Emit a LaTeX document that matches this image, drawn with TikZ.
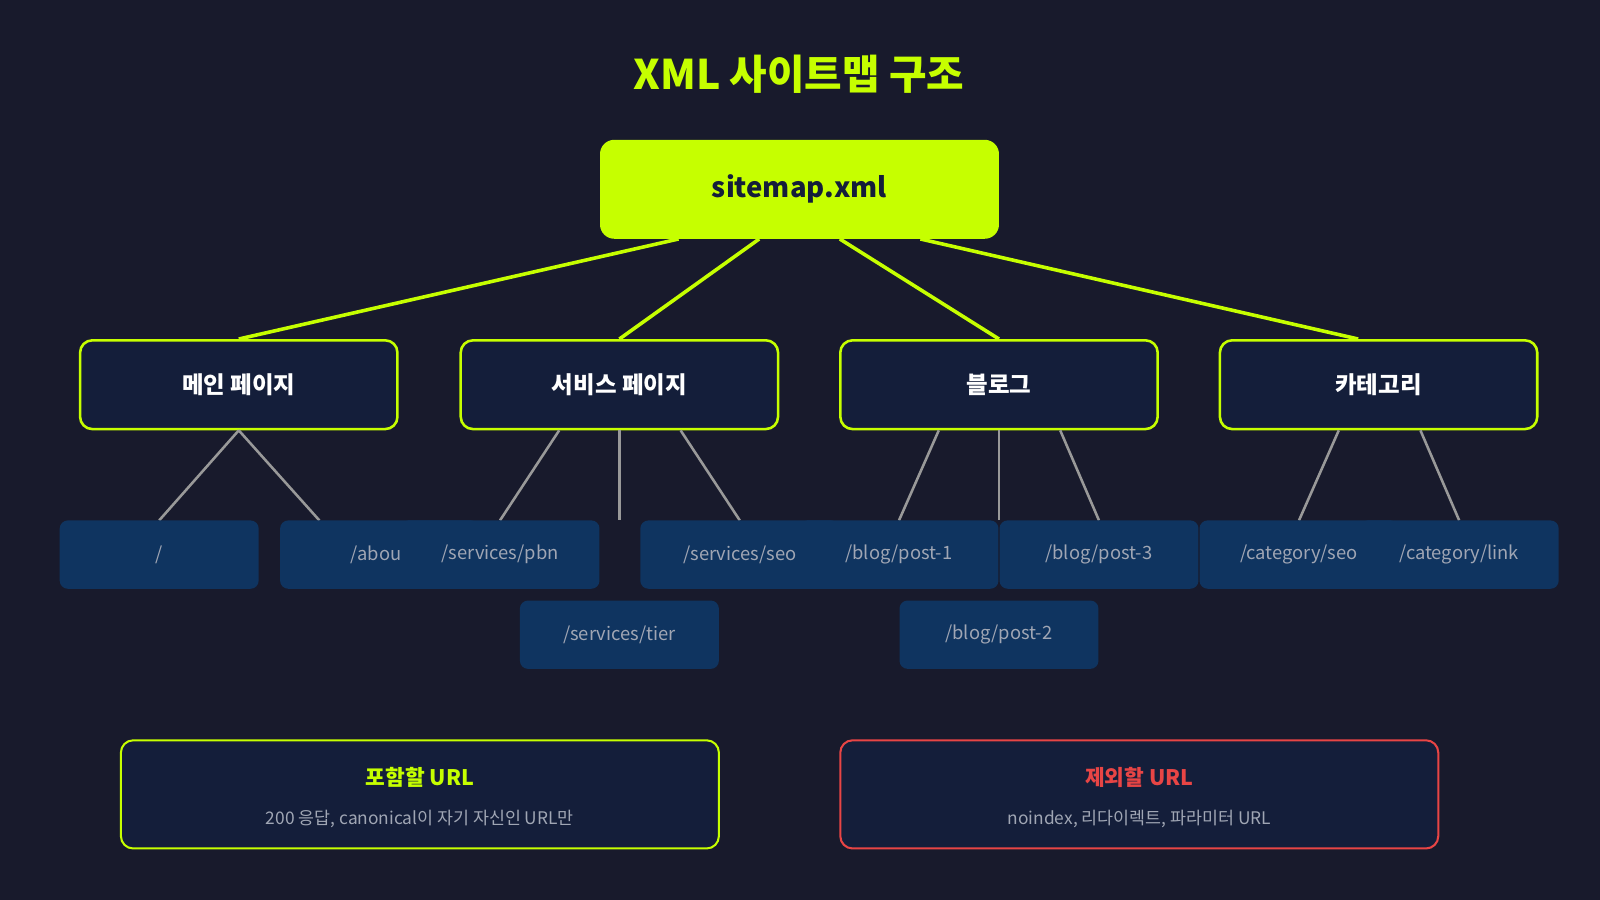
\documentclass[tikz,border=0pt]{standalone}
\usepackage{fontspec}
\setmainfont{Noto Sans CJK KR}
\usetikzlibrary{positioning}
\definecolor{bgc}{HTML}{181A2C}
\definecolor{lime}{HTML}{C6FF00}
\definecolor{boxc}{HTML}{141E3A}
\definecolor{leafc}{HTML}{0F3460}
\definecolor{leaftxt}{HTML}{A0A6B4}
\definecolor{redc}{HTML}{E84545}
\tikzset{
  root/.style={fill=lime,rounded corners=14pt,minimum width=391pt,minimum height=97pt,font=\fontsize{27}{30}\selectfont\bfseries,text=boxc},
  sect/.style={draw=lime,line width=2.5pt,fill=boxc,rounded corners=12pt,minimum width=311pt,minimum height=87pt,font=\fontsize{23}{26}\selectfont\bfseries,text=white},
  leaf/.style={fill=leafc,rounded corners=8pt,minimum width=195pt,minimum height=67pt,font=\fontsize{18}{20}\selectfont,text=leaftxt},
  note/.style={line width=2pt,fill=boxc,rounded corners=12pt,minimum width=586pt,minimum height=106pt},
  main/.style={lime,line width=3.5pt},
  sub/.style={gray!80,line width=2.5pt}
}
\begin{document}
\begin{tikzpicture}[x=1pt,y=-1pt]
\fill[bgc] (0,0) rectangle (1568,882);
\useasboundingbox (0,0) rectangle (1568,882);
\node[text=lime,font=\fontsize{40}{44}\selectfont\bfseries] (title) at (783,73) {XML 사이트맵 구조};
\node[root] (root) at (783.5,185.5) {sitemap.xml};
\node[sect] (main) at (234,377) {메인 페이지};
\node[sect] (serv) at (607,377) {서비스 페이지};
\node[sect] (blog) at (979,377) {블로그};
\node[sect] (cat) at (1351,377) {카테고리};
% sitemap to sections
\draw[main] (root.south -| 665,0) -- (main.north);
\draw[main] (root.south -| 744,0) -- (serv.north);
\draw[main] (root.south -| 823,0) -- (blog.north);
\draw[main] (root.south -| 902,0) -- (cat.north -| 1331,0);
% leaf ends
\coordinate (e1) at (156,510); \coordinate (e2) at (313,510);
\coordinate (e3) at (490,510); \coordinate (e4) at (607,510); \coordinate (e5) at (725,510);
\coordinate (e6) at (881,510); \coordinate (e7) at (979,510); \coordinate (e8) at (1077,510);
\coordinate (e9) at (1273,510); \coordinate (e10) at (1430,510);
\draw[sub] (main.south) -- (e1);
\draw[sub] (main.south) -- (e2);
\draw[sub] (serv.south -| 548,0) -- (e3);
\draw[sub] (serv.south) -- (e4);
\draw[sub] (serv.south -| 667,0) -- (e5);
\draw[sub] (blog.south -| 920,0) -- (e6);
\draw[sub] (blog.south) -- (e7);
\draw[sub] (blog.south -| 1039,0) -- (e8);
\draw[sub] (cat.south -| 1312,0) -- (e9);
\draw[sub] (cat.south -| 1392,0) -- (e10);
% leaves
\node[leaf] (home) at (156,543.5) {/};
\node[leaf] (about) at (372,543.5) {/about};
\node[leaf] (pbn) at (490,543.5) {/services/pbn};
\node[leaf] (tier) at (607,622) {/services/tier};
\node[leaf] (sseo) at (725,543.5) {/services/seo};
\node[leaf] (post1) at (881,543.5) {/blog/post-1};
\node[leaf] (post2) at (979,622) {/blog/post-2};
\node[leaf] (post3) at (1077,543.5) {/blog/post-3};
\node[leaf] (cseo) at (1273,543.5) {/category/seo};
\node[leaf] (clink) at (1430,543.5) {/category/link};
% notes
\node[note,draw=lime] (inc) at (411.5,778.5) {};
\node[text=lime,font=\fontsize{21}{24}\selectfont\bfseries] (inch) at (411.5,762) {포함할 URL};
\node[text=leaftxt,font=\fontsize{17}{20}\selectfont] (inct) at (411.5,803) {200 응답, canonical이 자기 자신인 URL만};
\node[note,draw=redc] (exc) at (1116.5,778.5) {};
\node[text=redc,font=\fontsize{21}{24}\selectfont\bfseries] (exch) at (1116.5,762) {제외할 URL};
\node[text=leaftxt,font=\fontsize{17}{20}\selectfont] (exct) at (1116.5,803) {noindex, 리다이렉트, 파라미터 URL};
\end{tikzpicture}
\end{document}
